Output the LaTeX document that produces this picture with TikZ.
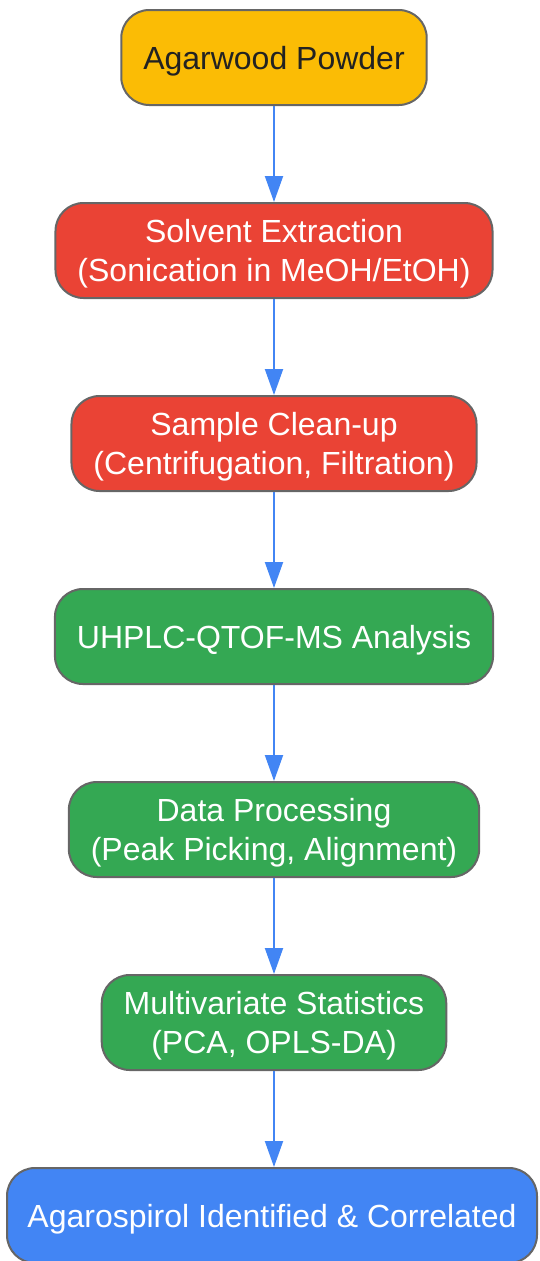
\documentclass[tikz,border=0pt]{standalone}
\usepackage{fontspec}
\setmainfont{Liberation Sans}
\usetikzlibrary{positioning, arrows.meta}
\definecolor{gyellow}{HTML}{FBBC05}
\definecolor{gred}{HTML}{EA4335}
\definecolor{ggreen}{HTML}{34A853}
\definecolor{gblue}{HTML}{4285F4}
\definecolor{edgegray}{HTML}{666666}
\definecolor{ink}{HTML}{222222}

\begin{document}
\begin{tikzpicture}[x=1pt, y=1pt,
    stage/.style={draw=edgegray, line width=2pt, rounded corners=28pt, align=center,
        minimum height=95pt, inner xsep=22pt, text depth=0pt, text=white,
        font=\fontsize{32}{38.3}\selectfont},
    flow/.style={draw=gblue, line width=2pt, -{Triangle[length=26pt, width=18pt]}},
    node distance=96pt]
            \useasboundingbox (0, 0) rectangle (539, -1261);
            \node[stage, fill=gyellow, text=ink](powder) at (274, -57.5){Agarwood Powder};
            \node[stage, fill=gred, below=of powder](extract){Solvent Extraction\\(Sonication in MeOH/EtOH)};
            \node[stage, fill=gred, below=of extract](cleanup){Sample Clean-up\\(Centrifugation, Filtration)};
            \node[stage, fill=ggreen, below=of cleanup](uhplc){UHPLC-QTOF-MS Analysis};
            \node[stage, fill=ggreen, below=of uhplc](process){Data Processing\\(Peak Picking, Alignment)};
            \node[stage, fill=ggreen, below=of process](stats){Multivariate Statistics\\(PCA, OPLS-DA)};
            \node[stage, fill=gblue, below=of stats, minimum width=530pt, inner xsep=4pt, xshift=-2pt](result){Agarospirol Identified \& Correlated};
            \draw[flow](powder)--(extract);
            \draw[flow](extract)--(cleanup);
            \draw[flow](cleanup)--(uhplc);
            \draw[flow](uhplc)--(process);
            \draw[flow](process)--(stats);
            \draw[flow](stats)--(stats |- result.north);
        \end{tikzpicture}
\end{document}
